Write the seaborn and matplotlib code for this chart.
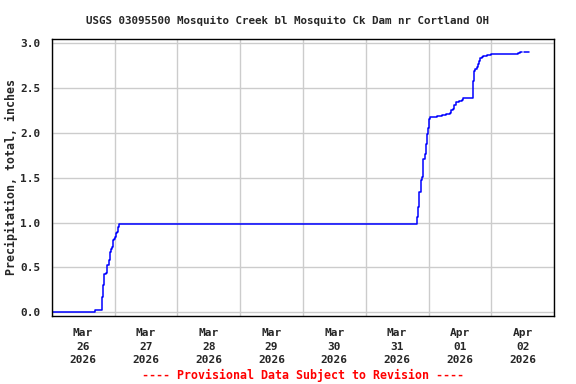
import pandas as pd
import numpy as np
import matplotlib
matplotlib.use("Agg")
import matplotlib.pyplot as plt
import matplotlib.dates as mdates
import seaborn as sns

# Precipitation readings (cumulative, inches)
times = [
    "2026-03-26 00:00", "2026-03-26 16:25", "2026-03-26 19:15", "2026-03-26 19:30",
    "2026-03-26 19:45", "2026-03-26 20:00", "2026-03-26 20:45", "2026-03-26 21:15",
    "2026-03-26 21:45", "2026-03-26 22:15", "2026-03-26 22:45", "2026-03-26 23:00",
    "2026-03-26 23:30", "2026-03-26 23:45", "2026-03-27 00:15", "2026-03-27 00:30",
    "2026-03-27 00:45", "2026-03-27 01:00", "2026-03-27 01:15", "2026-03-27 01:30",
    "2026-03-27 01:45", "2026-03-31 19:45", "2026-03-31 20:00", "2026-03-31 20:15",
    "2026-03-31 20:30", "2026-03-31 21:15", "2026-03-31 21:35", "2026-03-31 22:00",
    "2026-03-31 22:30", "2026-03-31 22:55", "2026-03-31 23:15", "2026-03-31 23:40",
    "2026-04-01 00:05", "2026-04-01 00:30", "2026-04-01 03:15", "2026-04-01 05:05",
    "2026-04-01 06:50", "2026-04-01 08:10", "2026-04-01 08:40", "2026-04-01 09:10",
    "2026-04-01 09:55", "2026-04-01 10:40", "2026-04-01 11:45", "2026-04-01 12:40",
    "2026-04-01 13:15", "2026-04-01 17:05", "2026-04-01 17:30", "2026-04-01 17:55",
    "2026-04-01 18:25", "2026-04-01 19:00", "2026-04-01 19:20", "2026-04-01 19:45",
    "2026-04-01 20:15", "2026-04-01 20:45", "2026-04-01 22:15", "2026-04-01 23:50",
    "2026-04-02 10:05", "2026-04-02 10:50", "2026-04-02 11:40",
]
precip = [
    0.00, 0.02, 0.17, 0.21,
    0.30, 0.43, 0.44, 0.53,
    0.58, 0.67, 0.70, 0.73,
    0.80, 0.82, 0.84, 0.85,
    0.88, 0.90, 0.93, 0.95,
    0.98, 1.06, 1.17, 1.27,
    1.34, 1.47, 1.51, 1.71,
    1.77, 1.88, 1.99, 2.06,
    2.16, 2.18, 2.19, 2.20,
    2.21, 2.22, 2.25, 2.27,
    2.31, 2.34, 2.36, 2.37,
    2.39, 2.58, 2.69, 2.71,
    2.74, 2.77, 2.80, 2.83,
    2.85, 2.86, 2.87, 2.88,
    2.89, 2.90, 2.90,
]
# short piece after the gap in the record
tail_times = ["2026-04-02 12:40", "2026-04-02 14:35"]
tail_precip = [2.90, 2.90]

day_labels = ["Mar\n26\n2026", "Mar\n27\n2026", "Mar\n28\n2026", "Mar\n29\n2026",
              "Mar\n30\n2026", "Mar\n31\n2026", "Apr\n01\n2026", "Apr\n02\n2026"]

df = pd.DataFrame({"time": pd.to_datetime(times), "precip": precip})
tail = pd.DataFrame({"time": pd.to_datetime(tail_times), "precip": tail_precip})

sns.set_style("white")
plt.rcParams["font.family"] = ["DejaVu Sans Mono"]
plt.rcParams["font.weight"] = "bold"

fig = plt.figure(figsize=(5.76, 3.84), dpi=100)
ax = fig.add_axes([0.0898, 0.178, 0.962 - 0.0898, 0.898 - 0.178])

sns.lineplot(data=df, x="time", y="precip", ax=ax, color="#0000ff",
             linewidth=1.1, drawstyle="steps-post", estimator=None)
sns.lineplot(data=tail, x="time", y="precip", ax=ax, color="#0000ff",
             linewidth=1.1, drawstyle="steps-post", estimator=None)

start = pd.Timestamp("2026-03-26")
ax.set_xlim(start, pd.Timestamp("2026-04-03"))
ax.set_ylim(-0.038, 3.045)

ax.xaxis.set_major_locator(mdates.DayLocator())
ax.xaxis.set_major_formatter(plt.NullFormatter())
noon = [start + pd.Timedelta(hours=12 + 24 * i) for i in range(len(day_labels))]
ax.set_xticks(noon, minor=True)
ax.set_xticklabels(day_labels, minor=True, fontsize=8, fontweight="bold",
                   linespacing=1.45)
ax.set_yticks([0.0, 0.5, 1.0, 1.5, 2.0, 2.5, 3.0])
ax.set_yticklabels(["0.0", "0.5", "1.0", "1.5", "2.0", "2.5", "3.0"],
                   fontsize=8, fontweight="bold")
ax.tick_params(axis="both", which="both", length=0)
ax.tick_params(axis="x", which="minor", pad=9)
ax.tick_params(axis="y", pad=8)

ax.grid(True, which="major", color="#cccccc", linewidth=1)
ax.set_axisbelow(True)
for s in ax.spines.values():
    s.set_color("black")
    s.set_linewidth(1)

ax.set_xlabel("")
ax.set_ylabel("Precipitation, total, inches", fontsize=8.4, fontweight="bold",
              labelpad=2)
fig.text(0.5, 0.945, "USGS 03095500 Mosquito Creek bl Mosquito Ck Dam nr Cortland OH",
         ha="center", va="center", fontsize=7.8, fontweight="bold")
fig.text(0.526, 0.022, "---- Provisional Data Subject to Revision ----",
         ha="center", va="center", fontsize=8.4, fontweight="bold", color="red")

fig.savefig("out.png", dpi=100)
